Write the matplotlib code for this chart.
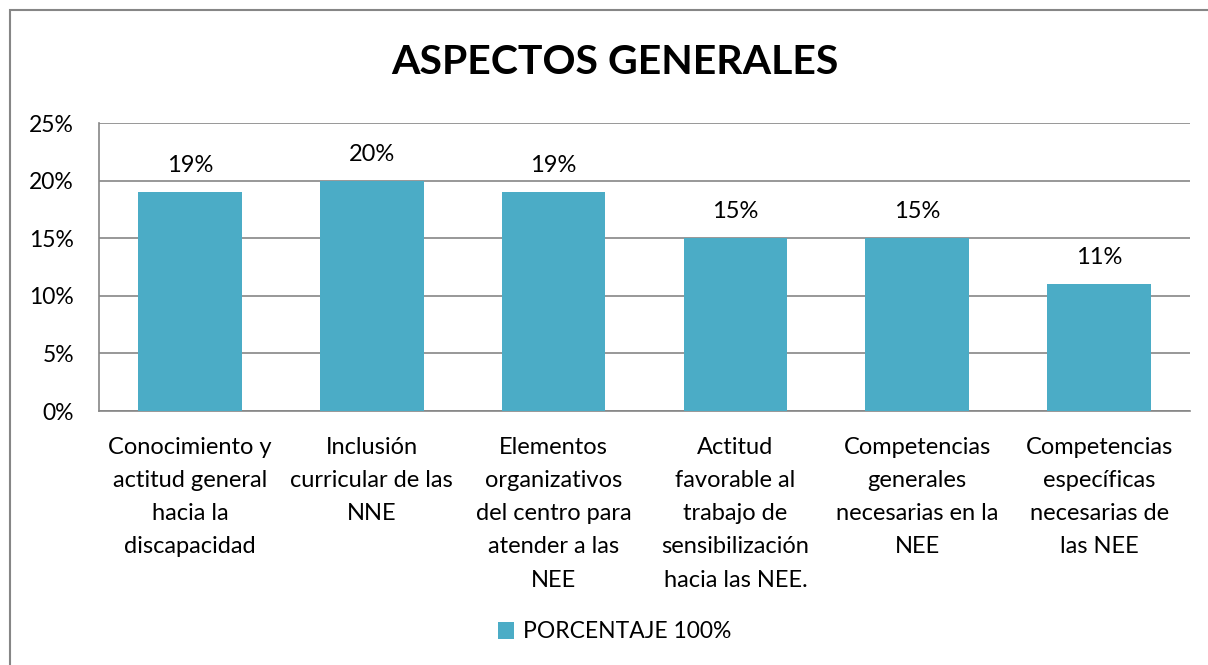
import matplotlib.pyplot as plt
from matplotlib.patches import Rectangle

plt.rcParams["font.family"] = ["Lato", "DejaVu Sans"]

categorias = [
    "Conocimiento y\nactitud general\nhacia la\ndiscapacidad",
    "Inclusión\ncurricular de las\nNNE",
    "Elementos\norganizativos\ndel centro para\natender a las\nNEE",
    "Actitud\nfavorable al\ntrabajo de\nsensibilización\nhacia las NEE.",
    "Competencias\ngenerales\nnecesarias en la\nNEE",
    "Competencias\nespecíficas\nnecesarias de\nlas NEE",
]
porcentajes = [0.19, 0.20, 0.19, 0.15, 0.15, 0.11]
ticks_y = [0, 0.05, 0.10, 0.15, 0.20, 0.25]
serie = "PORCENTAJE 100%"
color_barra = "#4BACC6"
gris = "#868686"

fig = plt.figure(figsize=(12.08, 6.65), dpi=100)

# borde del grafico
fig.patches.append(Rectangle((10 / 1208, -0.1), 1.2, 1 - 10 / 665 + 0.1,
                             transform=fig.transFigure, fill=False,
                             edgecolor=gris, linewidth=1.5))

ax = fig.add_axes([99 / 1208, 1 - 411 / 665, (1190 - 99) / 1208, (411 - 123) / 665])
x = range(len(categorias))
barras = ax.bar(x, porcentajes, width=0.57, color=color_barra, label=serie, zorder=3)

ax.set_xlim(-0.5, len(categorias) - 0.5)
ax.set_ylim(0, 0.25)
ax.set_yticks(ticks_y)
ax.set_yticklabels([f"{int(round(t * 100))}%" for t in ticks_y], fontsize=16.5)
ax.set_xticks(list(x))
ax.set_xticklabels(categorias, fontsize=17, linespacing=1.72, va="top")
ax.tick_params(axis="both", length=0)
ax.tick_params(axis="y", pad=18)
ax.tick_params(axis="x", pad=18.5)
ax.grid(axis="y", color=gris, linewidth=1.2, zorder=0)

for lado in ["top", "right"]:
    ax.spines[lado].set_visible(False)
for lado in ["left", "bottom"]:
    ax.spines[lado].set_color(gris)
    ax.spines[lado].set_linewidth(1.2)

for b, v in zip(barras, porcentajes):
    ax.annotate(f"{int(round(v * 100))}%", (b.get_x() + b.get_width() / 2, v),
                xytext=(0, 19), textcoords="offset points", ha="center",
                va="center", fontsize=17)

fig.text(615 / 1208, 1 - 62 / 665, "ASPECTOS GENERALES", ha="center", va="center",
         fontsize=29.5, fontweight="bold")

fig.legend(loc="center", bbox_to_anchor=(615 / 1208, 1 - 632 / 665), frameon=False,
           fontsize=16.5, handlelength=0.7, handleheight=0.7, handletextpad=0.4)

fig.savefig("out.png", dpi=100)
